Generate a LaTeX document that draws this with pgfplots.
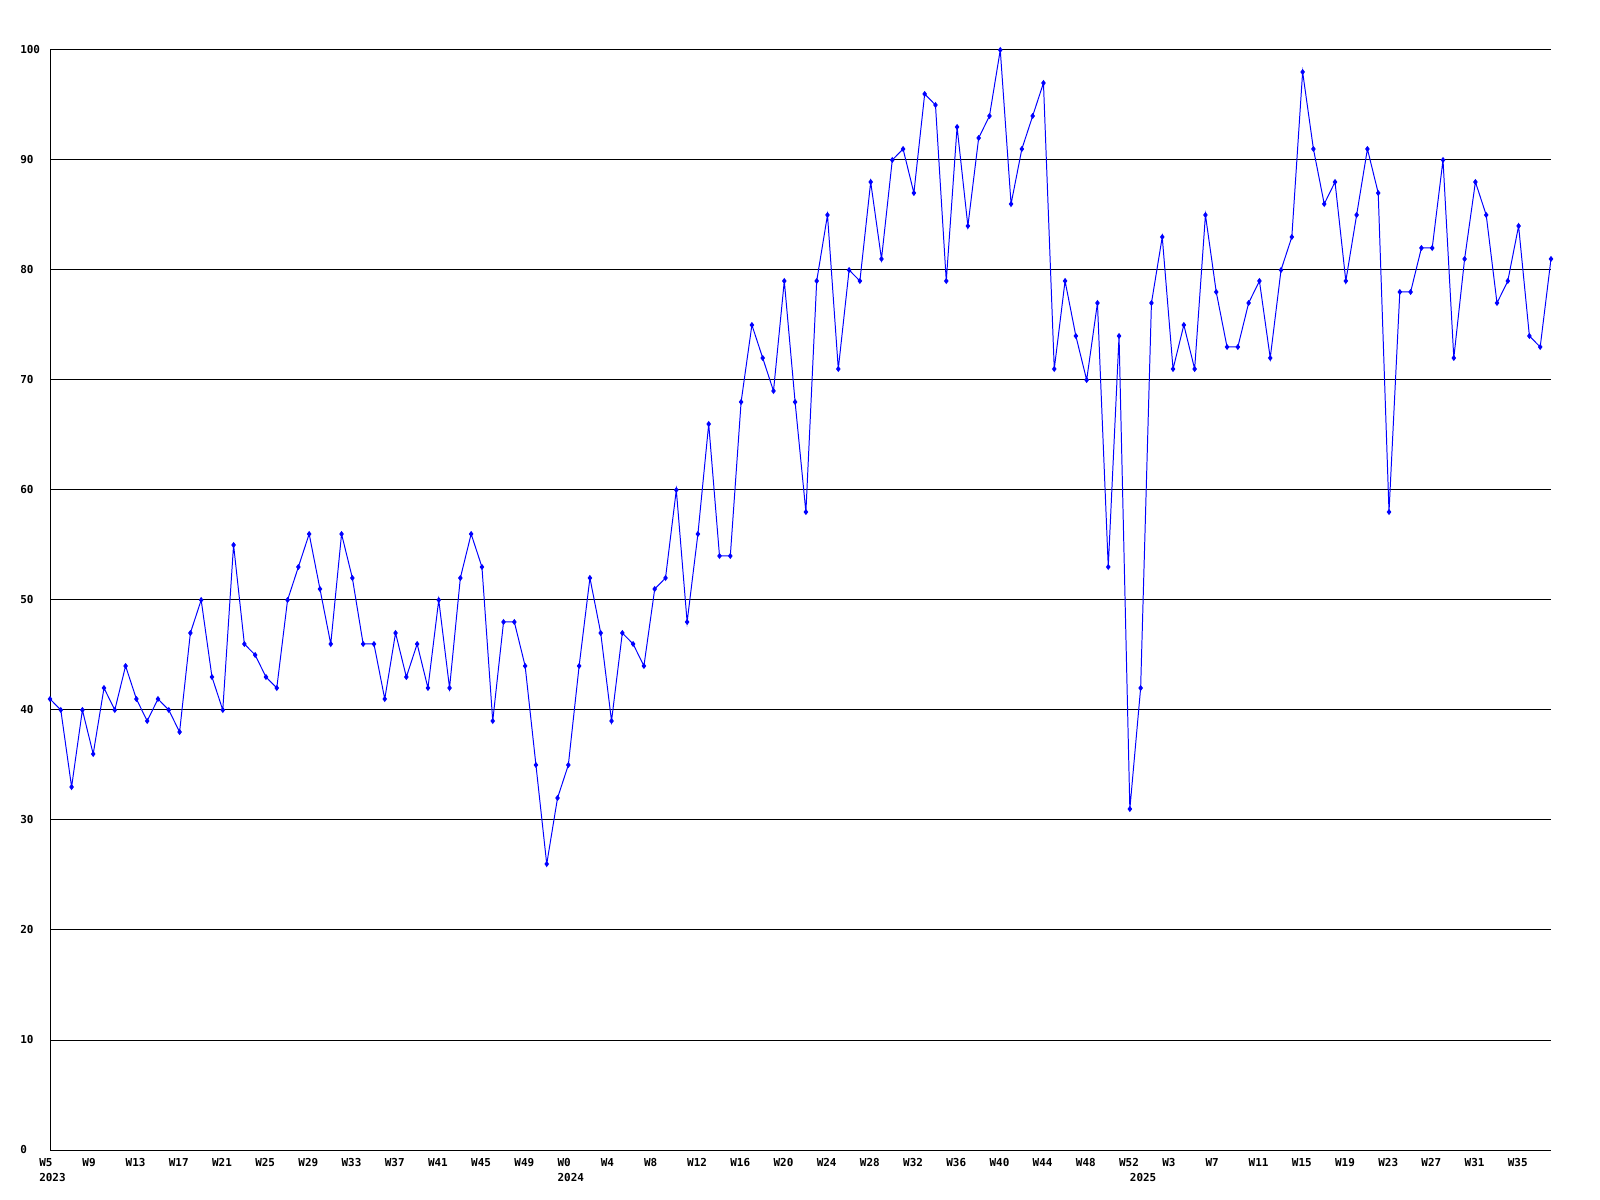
\documentclass[border=0pt]{standalone}
\usepackage{fontspec}
\setmainfont{DejaVu Sans Mono}
\usepackage{pgfplots}
\pgfplotsset{compat=1.18}
\begin{document}
\begin{tikzpicture}
\useasboundingbox (0,0) rectangle (400mm,300mm);
\begin{axis}[
  at={(12.5mm,12.5mm)}, anchor=south west,
  width=375.25mm, height=275mm, scale only axis,
  xmin=0, xmax=139, ymin=0, ymax=100,
  axis x line=bottom, axis y line=left,
  axis line style={-, black, line width=0.7pt},
  major tick length=0pt,
  ytick={0,10,...,100},
  ymajorgrids, grid style={black, line width=0.7pt},
  xtick={0,4,...,136},
  xticklabels={W5,W9,W13,W17,W21,W25,W29,W33,W37,W41,W45,W49,W0,W4,W8,W12,W16,W20,W24,W28,W32,W36,W40,W44,W48,W52,W3,W7,W11,W15,W19,W23,W27,W31,W35},
  extra x ticks={0,48,101},
  extra x tick labels={2023,2024,2025},
  extra x tick style={major tick length=0pt, xticklabel style={yshift=-3.75mm}},
  /pgf/number format/assume math mode=true,
  tick label style={font=\fontsize{7.8}{9}\selectfont\bfseries, inner sep=0pt},
  xticklabel style={anchor=north west, xshift=-2.75mm, yshift=-2mm},
  yticklabel style={anchor=west, xshift=-7.5mm},
  clip=true,
]
\addplot[blue, line width=0.7pt, mark=diamond*, mark size=1.6pt, mark options={solid, blue}] coordinates {
(0,41)(1,40)(2,33)(3,40)(4,36)(5,42)(6,40)(7,44)(8,41)(9,39)
(10,41)(11,40)(12,38)(13,47)(14,50)(15,43)(16,40)(17,55)(18,46)(19,45)
(20,43)(21,42)(22,50)(23,53)(24,56)(25,51)(26,46)(27,56)(28,52)(29,46)
(30,46)(31,41)(32,47)(33,43)(34,46)(35,42)(36,50)(37,42)(38,52)(39,56)
(40,53)(41,39)(42,48)(43,48)(44,44)(45,35)(46,26)(47,32)(48,35)(49,44)
(50,52)(51,47)(52,39)(53,47)(54,46)(55,44)(56,51)(57,52)(58,60)(59,48)
(60,56)(61,66)(62,54)(63,54)(64,68)(65,75)(66,72)(67,69)(68,79)(69,68)
(70,58)(71,79)(72,85)(73,71)(74,80)(75,79)(76,88)(77,81)(78,90)(79,91)
(80,87)(81,96)(82,95)(83,79)(84,93)(85,84)(86,92)(87,94)(88,100)(89,86)
(90,91)(91,94)(92,97)(93,71)(94,79)(95,74)(96,70)(97,77)(98,53)(99,74)
(100,31)(101,42)(102,77)(103,83)(104,71)(105,75)(106,71)(107,85)(108,78)(109,73)
(110,73)(111,77)(112,79)(113,72)(114,80)(115,83)(116,98)(117,91)(118,86)(119,88)
(120,79)(121,85)(122,91)(123,87)(124,58)(125,78)(126,78)(127,82)(128,82)(129,90)
(130,72)(131,81)(132,88)(133,85)(134,77)(135,79)(136,84)(137,74)(138,73)(139,81)
};
\end{axis}
\end{tikzpicture}
\end{document}
